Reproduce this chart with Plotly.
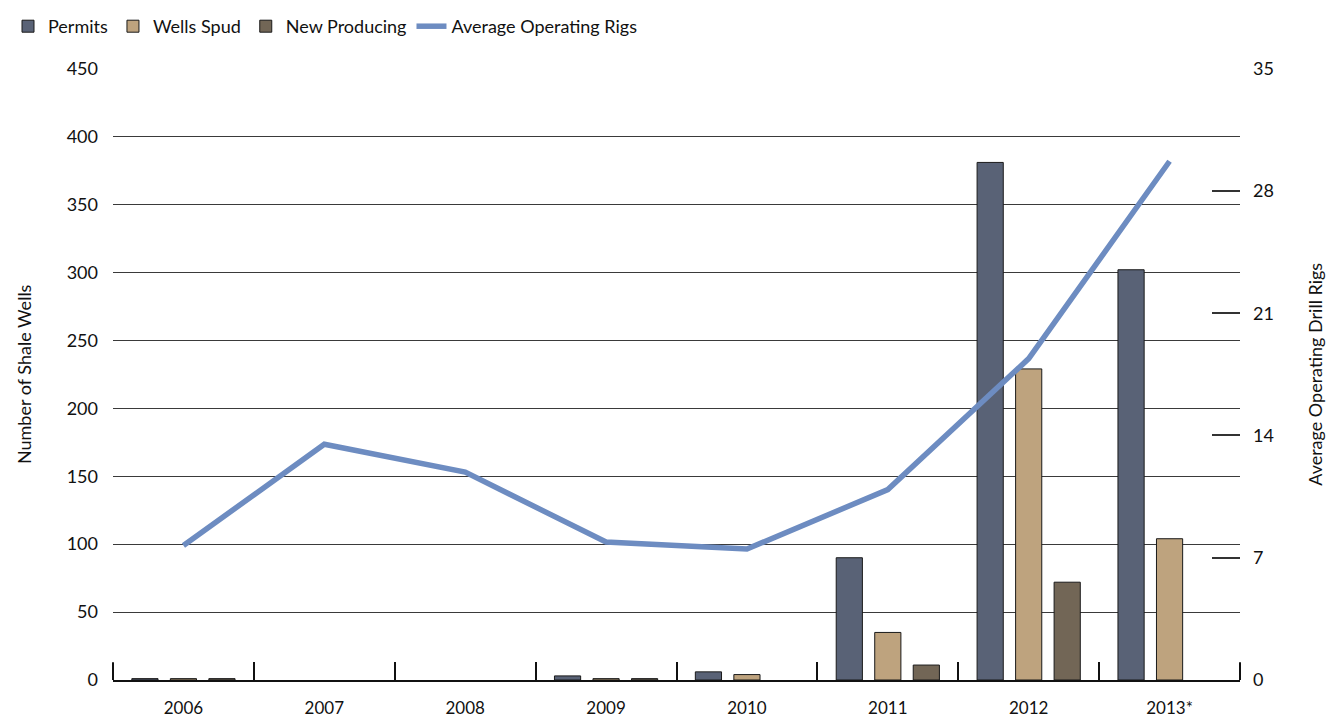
import plotly.graph_objects as go

# Data (None = no bar drawn)
years = ['2006', '2007', '2008', '2009', '2010', '2011', '2012', '2013*']
permits = [1, None, None, 3, 6, 90, 381, 302]
wells_spud = [1, None, None, 1, 4, 35, 229, 104]
new_producing = [1, None, None, 1, None, 11, 72, None]
avg_rigs = [7.7, 13.5, 11.9, 7.9, 7.5, 10.9, 18.4, 29.7]

FONT = 'Lato, "Noto Sans", Arial, sans-serif'

fig = go.Figure()

bar_styles = [
    ('Permits', permits, '#596276'),
    ('Wells Spud', wells_spud, '#bea37e'),
    ('New Producing', new_producing, '#726656'),
]
for name, vals, color in bar_styles:
    fig.add_trace(go.Bar(
        x=years, y=vals, name=name,
        marker=dict(color=color, line=dict(color='#1a1a1a', width=1)),
    ))

fig.add_trace(go.Scatter(
    x=years, y=avg_rigs, name='Average Operating Rigs',
    mode='lines', yaxis='y2',
    line=dict(color='#6d8cc1', width=5.5),
))

# boundary ticks at both ends of the category axis
for xp in (0, 1):
    fig.add_shape(type='line', xref='paper', yref='paper',
                  x0=xp, x1=xp, y0=0, y1=0.029,
                  line=dict(color='#111111', width=2))

fig.update_layout(
    width=1340, height=719,
    margin=dict(l=105, r=108, t=56, b=47),
    paper_bgcolor='#FFFFFF',
    plot_bgcolor='#FFFFFF',
    font=dict(family=FONT, size=18, color='#111111'),
    barmode='group',
    bargap=0.18,
    bargroupgap=0.32,
    showlegend=True,
    legend=dict(
        orientation='h',
        xref='container', yref='container',
        x=0.0, y=1.0, xanchor='left', yanchor='top',
        font=dict(size=18),
        itemwidth=30,
        traceorder='normal',
    ),
    xaxis=dict(
        type='category',
        showline=True, linecolor='#111111', linewidth=2,
        ticks='inside', tickson='boundaries', ticklen=18,
        tickcolor='#111111', tickwidth=2,
        showgrid=False,
        automargin=False,
        ticklabelstandoff=12,
        tickfont=dict(size=17),
    ),
    yaxis=dict(
        range=[0, 450], dtick=50,
        showgrid=True, gridcolor='#3a3a3a', gridwidth=1,
        zeroline=False, showline=False,
        ticks='', ticklabelstandoff=14,
        title=dict(text='Number of Shale Wells', standoff=30, font=dict(size=18)),
        tickfont=dict(size=18),
    ),
    yaxis2=dict(
        overlaying='y', side='right',
        range=[0, 35], dtick=7,
        showgrid=False, zeroline=False, showline=False,
        ticks='inside', ticklen=28, tickcolor='#333333', tickwidth=1.5,
        ticklabelstandoff=12,
        title=dict(text='Average Operating Drill Rigs', standoff=36, font=dict(size=18)),
        tickfont=dict(size=18),
    ),
)

fig.write_html('out.html')
